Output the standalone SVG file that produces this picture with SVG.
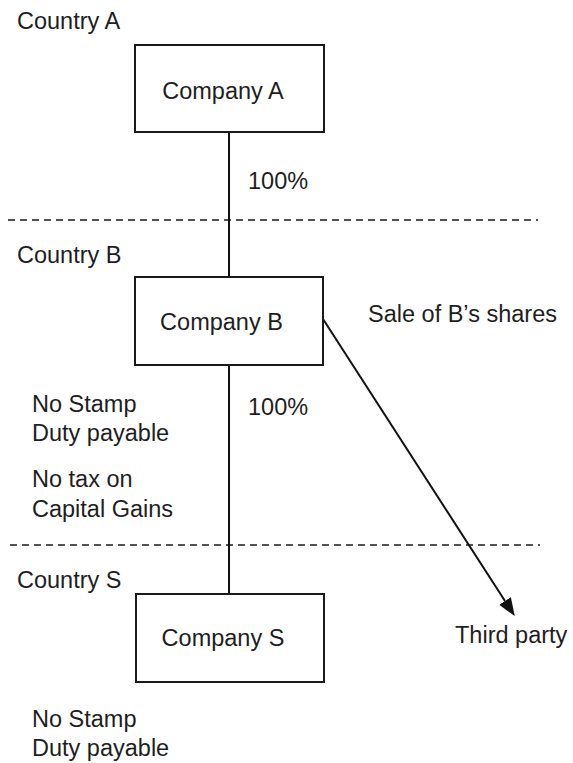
<svg xmlns="http://www.w3.org/2000/svg" width="573" height="763" viewBox="0 0 573 763">
  <style>
    text { font-family: "Liberation Sans", Arial, sans-serif; font-size: 23.5px; fill: #1e1e1e; }
    .box { fill: #ffffff; stroke: #1a1a1a; stroke-width: 2; }
    .link { stroke: #111111; stroke-width: 2; fill: none; }
    .border { stroke: #1a1a1a; stroke-width: 1.6; stroke-dasharray: 7 5; fill: none; }
    .mid { text-anchor: middle; }
  </style>
  <defs>
    <marker id="arrowhead" markerUnits="userSpaceOnUse" markerWidth="20" markerHeight="16" refX="0" refY="7" orient="auto">
      <path d="M0,0 L18,7 L0,14 Z" fill="#111111"/>
    </marker>
  </defs>

  <rect width="573" height="763" fill="#ffffff"/>

  <!-- country borders -->
  <g id="borders">
    <line class="border" x1="8" y1="220" x2="538" y2="220"/>
    <line class="border" x1="10" y1="545" x2="540" y2="545"/>
  </g>

  <!-- jurisdiction labels -->
  <g id="countries">
    <text x="17" y="29">Country A</text>
    <text x="17" y="263">Country B</text>
    <text x="17" y="588">Country S</text>
  </g>

  <!-- connectors -->
  <g id="connectors">
    <line class="link" x1="229" y1="132" x2="229" y2="277"/>
    <line class="link" x1="229" y1="365" x2="229" y2="594"/>
    <line class="link" x1="323" y1="319" x2="505" y2="601" marker-end="url(#arrowhead)"/>
    <text x="248" y="189">100%</text>
    <text x="248" y="415">100%</text>
    <text x="368" y="322">Sale of B’s shares</text>
  </g>

  <g id="company-a">
    <rect class="box" x="135" y="45" width="189" height="87"/>
    <text class="mid" x="223" y="99">Company A</text>
  </g>

  <g id="company-b">
    <rect class="box" x="135" y="277" width="188" height="88"/>
    <text class="mid" x="221.5" y="330">Company B</text>
  </g>

  <g id="company-s">
    <rect class="box" x="136" y="594" width="188" height="88"/>
    <text class="mid" x="223" y="646">Company S</text>
  </g>

  <g id="third-party">
    <text x="455" y="643">Third party</text>
  </g>

  <!-- tax notes -->
  <g id="notes-b">
    <text x="32" y="412">No Stamp</text>
    <text x="32" y="441">Duty payable</text>
    <text x="32" y="487">No tax on</text>
    <text x="32" y="517">Capital Gains</text>
  </g>
  <g id="notes-s">
    <text x="32" y="727">No Stamp</text>
    <text x="32" y="756">Duty payable</text>
  </g>
</svg>
